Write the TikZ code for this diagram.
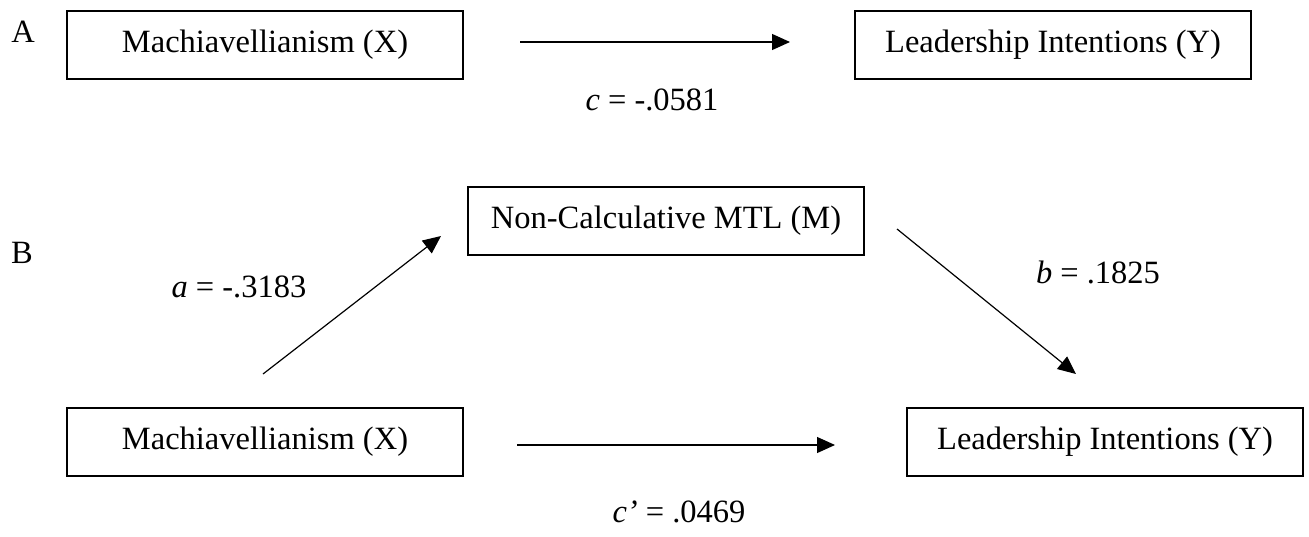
\documentclass[tikz,border=0pt]{standalone}
\usepackage{fontspec}
\setmainfont{Liberation Serif}
\usetikzlibrary{arrows.meta}
\begin{document}
\begin{tikzpicture}[x=1pt,y=-1pt,
  box/.style={draw, line width=2.6pt, minimum width=396pt, minimum height=68pt, inner sep=0pt, font=\fontsize{32.5}{38}\selectfont},
  lbl/.style={font=\fontsize{32.5}{38}\selectfont, inner sep=0pt},
  arr/.style={line width=1.2pt, -{Triangle[length=18pt,width=16pt]}}]
\useasboundingbox (0,0) rectangle (1309,536);
% Panel A
\node[lbl] (pa) at (23,32) {A};
\node[box] (xa) at (265,45) {Machiavellianism (X)};
\node[box] (ya) at (1053,45) {Leadership Intentions (Y)};
\coordinate (ca1) at (520,42);
\coordinate (ca2) at (790,42);
\draw[arr] (ca1) -- (ca2);
\node[lbl] (lc) at (652,100) {\textit{c} = -.0581};
% Panel B
\node[lbl] (pb) at (22,253) {B};
\node[box] (m) at (666,221) {Non-Calculative MTL (M)};
\node[box] (xb) at (265,442) {Machiavellianism (X)};
\node[box] (yb) at (1105,442) {Leadership Intentions (Y)};
\coordinate (a1) at (263,374);
\coordinate (a2) at (441,236);
\draw[arr] (a1) -- (a2);
\coordinate (b1) at (897,229);
\coordinate (b2) at (1076,374);
\draw[arr] (b1) -- (b2);
\coordinate (c1) at (517,445);
\coordinate (c2) at (835,445);
\draw[arr] (c1) -- (c2);
\node[lbl] (la) at (239,287) {\textit{a} = -.3183};
\node[lbl] (lb) at (1098,272) {\textit{b} = .1825};
\node[lbl] (lcp) at (679,512) {\textit{c’} = .0469};
\end{tikzpicture}
\end{document}
